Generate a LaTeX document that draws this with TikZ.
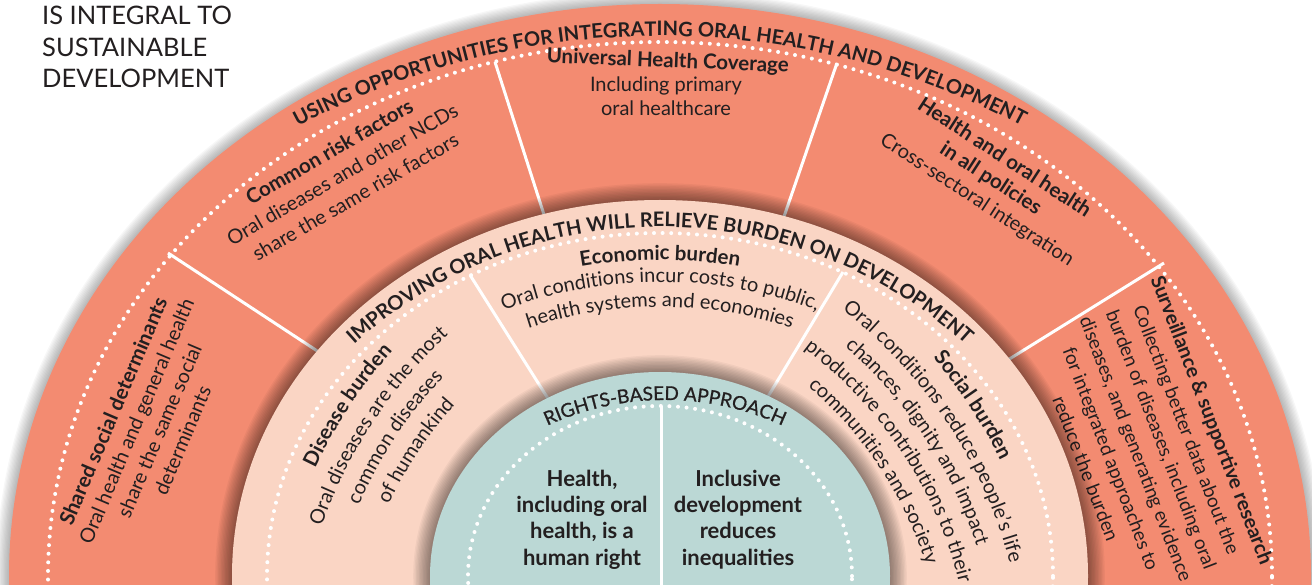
\documentclass[tikz,border=0pt]{standalone}
\usepackage{fontspec}
\setmainfont{Lato}
\newfontfamily\medfont[FakeBold=0.8]{Lato}
\usetikzlibrary{decorations.text,calc}
\definecolor{salmonc}{RGB}{243,139,113}
\definecolor{pinkc}{RGB}{250,213,196}
\definecolor{tealc}{RGB}{187,216,213}
\definecolor{txtc}{RGB}{35,31,32}
\newcommand{\fsz}[2]{\fontsize{#1}{#2}\selectfont}
\newcommand{\bodyf}{\fsz{20}{24}}
\newcommand{\ttlf}{\fsz{20.5}{24}\bfseries}
\begin{document}
\begin{tikzpicture}[x=1pt,y=1pt,
  dotline/.style={white,line width=4pt,line cap=round,dash pattern=on 0pt off 8.6pt},
  divline/.style={white,line width=3pt},
  lbl/.style={text=txtc,inner sep=0pt,anchor=base,font=\bodyf},
  ttl/.style={text=txtc,inner sep=0pt,anchor=base,font=\ttlf},
  ctr/.style={text=txtc,inner sep=0pt,anchor=base,font=\fsz{22}{26}\bfseries},
  head/.style={text=txtc,inner sep=0pt,anchor=base west,font=\fsz{25.5}{30}},
  curved/.style={decorate,decoration={text along path,text align=center,text color=txtc}}
]
\useasboundingbox (0,0) rectangle (1312,584);
\clip (0,0) rectangle (1312,584);
\coordinate (C) at (660,8);

% ---------- outer ring ----------
\foreach \k in {1,...,10}{\fill[black,opacity=0.03] (C) ellipse [x radius={651+1.3*\k}, y radius={572+1.3*\k}];}
\fill[salmonc] (C) ellipse [x radius=651, y radius=572];
\draw[dotline] (C) ellipse [x radius=612, y radius=534];
\coordinate (o1) at (168,331);
\coordinate (o2) at (495,522);
\coordinate (o3) at (837,521);
\coordinate (o4) at (1164,321);
\foreach \p in {o1,o2,o3,o4}{\draw[divline] (\p) -- ($(\p)!0.55!(C)$);}

\path[curved,decoration={text={|\fsz{20}{24}\bfseries|USING OPPORTUNITIES FOR INTEGRATING ORAL HEALTH AND DEVELOPMENT}}]
  (660,-222) ++(140:770) arc[start angle=140,end angle=40,radius=770];

\begin{scope}[shift={(120,170)},rotate=67,transform shape]
  \node[ttl] (sh0) at (0,0) {Shared social determinants};
  \node[lbl] (sh1) at (0,-25) {Oral health and general health};
  \node[lbl] (sh2) at (0,-50) {share the same social};
  \node[lbl] (sh3) at (0,-75) {determinants};
\end{scope}
\begin{scope}[shift={(333,426)},rotate=30,transform shape]
  \node[ttl] (cr0) at (0,0) {Common risk factors};
  \node[lbl] (cr1) at (0,-26) {Oral diseases and other NCDs};
  \node[lbl] (cr2) at (0,-52) {share the same risk factors};
\end{scope}
\node[ttl,rotate=-2.3] (uh0) at (667.5,516.5) {Universal Health Coverage};
\node[lbl] (uh1) at (666,492) {Including primary};
\node[lbl] (uh2) at (666,468) {oral healthcare};
\begin{scope}[shift={(1001,421)},rotate=-33,transform shape]
  \node[ttl] (hp0) at (0,0) {Health and oral health};
  \node[ttl] (hp1) at (0,-25) {in all policies};
  \node[lbl] (hp2) at (0,-50) {Cross-sectoral integration};
\end{scope}
\begin{scope}[shift={(1205.5,161.5)},rotate=-69,transform shape]
  \node[ttl,font=\fsz{20}{24}\bfseries] (sv0) at (0,0) {Surveillance \& supportive research};
  \node[lbl,font=\fsz{19}{23}] (sv1) at (0,-27) {Collecting better data about the};
  \node[lbl,font=\fsz{19}{23}] (sv2) at (0,-54) {burden of diseases, including oral};
  \node[lbl,font=\fsz{19}{23}] (sv3) at (0,-81) {diseases, and generating evidence};
  \node[lbl,font=\fsz{19}{23}] (sv4) at (0,-108) {for integrated approaches to};
  \node[lbl,font=\fsz{19}{23}] (sv5) at (0,-135) {reduce the burden};
\end{scope}

% ---------- middle ring ----------
\foreach \k in {1,...,12}{\fill[black,opacity=0.04] (C) ellipse [x radius={428+1.4*\k}, y radius={376+1.4*\k}];}
\fill[pinkc] (C) ellipse [x radius=428, y radius=376];
\draw[dotline] (C) ellipse [x radius=393, y radius=343];
\coordinate (m1) at (470,309);
\coordinate (m2) at (843,312);
\foreach \p in {m1,m2}{\draw[divline] (\p) -- ($(\p)!0.6!(C)$);}

\path[curved,decoration={text={|\fsz{20}{24}\bfseries|IMPROVING ORAL HEALTH WILL RELIEVE BURDEN ON DEVELOPMENT}}]
  (660,-98.5) ++(150:455.5) arc[start angle=150,end angle=30,radius=455.5];

% Disease burden (arcs centred at dbc)
\coordinate (dbc) at (765,-98);
\path[curved,decoration={text={|\ttlf|Disease burden}}] (dbc) ++(186.5:498) arc[start angle=186.5,end angle=106.5,radius=498];
\path[curved,decoration={text={|\bodyf|Oral diseases are the most}}] (dbc) ++(186.5:470) arc[start angle=186.5,end angle=106.5,radius=470];
\path[curved,decoration={text={|\bodyf|common diseases}}] (dbc) ++(186.5:443) arc[start angle=186.5,end angle=106.5,radius=443];
\path[curved,decoration={text={|\bodyf|of humankind}}] (dbc) ++(186.5:416) arc[start angle=186.5,end angle=106.5,radius=416];

% Economic burden (arcs centred at ebc)
\coordinate (ebc) at (660,-141);
\path[curved,decoration={text={|\ttlf|Economic burden}}] (ebc) ++(130:465) arc[start angle=130,end angle=50,radius=465];
\path[curved,decoration={text={|\bodyf|Oral conditions incur costs to public,}}] (ebc) ++(130:443) arc[start angle=130,end angle=50,radius=443];
\path[curved,decoration={text={|\bodyf|health systems and economies}}] (ebc) ++(130:418) arc[start angle=130,end angle=50,radius=418];

% Social burden (arcs centred at sbc)
\coordinate (sbc) at (555,-98);
\path[curved,decoration={text={|\ttlf|Social burden}}] (sbc) ++(73.5:498) arc[start angle=73.5,end angle=-6.5,radius=498];
\path[curved,decoration={text={|\bodyf|Oral conditions reduce people’s life}}] (sbc) ++(73.5:470) arc[start angle=73.5,end angle=-6.5,radius=470];
\path[curved,decoration={text={|\bodyf|chances, dignity and impact}}] (sbc) ++(73.5:443) arc[start angle=73.5,end angle=-6.5,radius=443];
\path[curved,decoration={text={|\bodyf|productive contributions to their}}] (sbc) ++(73.5:416) arc[start angle=73.5,end angle=-6.5,radius=416];
\path[curved,decoration={text={|\bodyf|communities and society}}] (sbc) ++(73.5:389) arc[start angle=73.5,end angle=-6.5,radius=389];

% ---------- inner disk ----------
\foreach \k in {1,...,12}{\fill[black,opacity=0.04] (C) ellipse [x radius={230+1.4*\k}, y radius={204+1.4*\k}];}
\fill[tealc] (C) ellipse [x radius=230, y radius=204];
\draw[dotline] (C) ellipse [x radius=192, y radius=170];
\coordinate (i1) at (661,178);
\coordinate (i2) at (661,-5);
\draw[divline] (i1) -- (i2);
\path[curved,decoration={text={|\fsz{19}{24}\medfont|RIGHTS-BASED APPROACH}}]
  (665,-97.6) ++(150:281.6) arc[start angle=150,end angle=30,radius=281.6];

\node[ctr] (l1) at (582,98) {Health,};
\node[ctr] (l2) at (582,72) {including oral};
\node[ctr] (l3) at (582,46) {health, is a};
\node[ctr] (l4) at (582,19) {human right};
\node[ctr] (r1) at (738,98) {Inclusive};
\node[ctr] (r2) at (738,72) {development};
\node[ctr] (r3) at (738,46) {reduces};
\node[ctr] (r4) at (738,19) {inequalities};

% ---------- heading ----------
\node[head] (t1) at (42,559) {IS INTEGRAL TO};
\node[head] (t2) at (42,527) {SUSTAINABLE};
\node[head] (t3) at (42,496) {DEVELOPMENT};
\end{tikzpicture}
\end{document}
